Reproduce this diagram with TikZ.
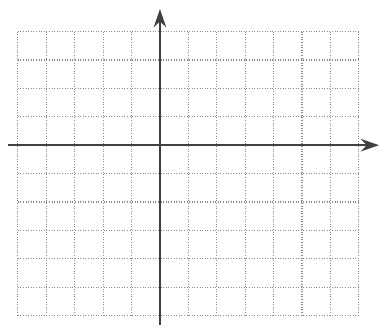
\documentclass[tikz,border=0pt]{standalone}
\usetikzlibrary{arrows.meta}
\begin{document}
\begin{tikzpicture}[x=0.5cm, y=0.5cm, line join=round, >={Stealth[length=3.2mm,width=2.2mm]},
	gridline/.style={gray!90, line width=0.55pt, dash pattern=on 0.5pt off 0.8pt},
	axisline/.style={black!75, line width=1pt, ->}]
	\useasboundingbox (-5.63,-6.41) rectangle (7.71,5.11);
	\path 
	(-5.35,0) coordinate (W)
	(7.71,0) coordinate (E)
	(0,-6.34) coordinate (S)
	(0,4.79) coordinate (N)
	;
	
	\draw[gridline, step=0.5cm] (-5,-6) grid (7,4);
	\draw[axisline] (W)--(E);
	\draw[axisline] (S)--(N);
\end{tikzpicture}
\end{document}
